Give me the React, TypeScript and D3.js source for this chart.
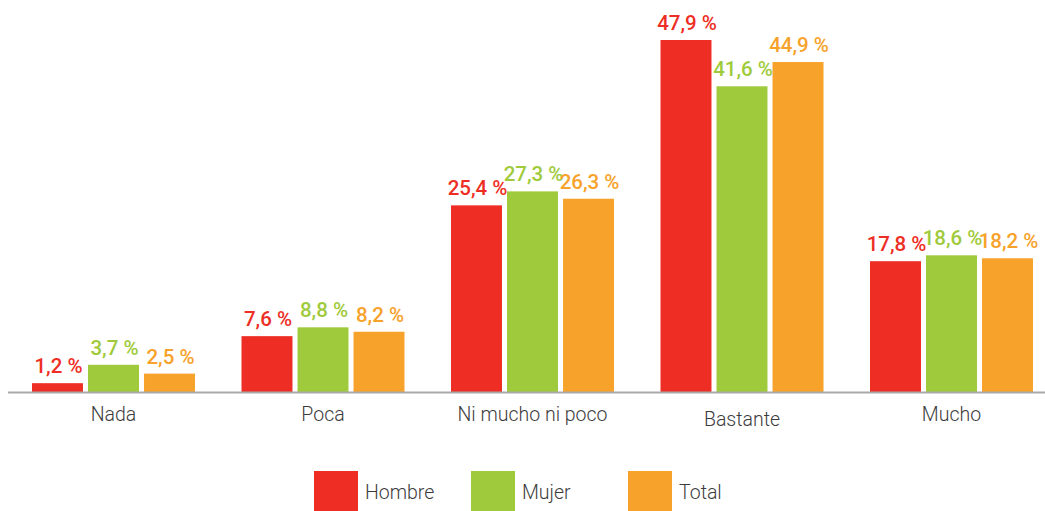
import React from "react";
import * as d3 from "d3";

const categories = ["Nada", "Poca", "Ni mucho ni poco", "Bastante", "Mucho"];
const seriesNames = ["Hombre", "Mujer", "Total"];
const hombre = [1.2, 7.6, 25.4, 47.9, 17.8];
const mujer = [3.7, 8.8, 27.3, 41.6, 18.6];
const total = [2.5, 8.2, 26.3, 44.9, 18.2];
const seriesValues = [hombre, mujer, total];
const colors = ["#ee2e24", "#9fca3b", "#f7a22a"];

const width = 1045;
const height = 511;
const baseline = 392;

const fmt = (v: number) => v.toFixed(1).replace(".", ",") + " %";

export default function App() {
  const x0 = d3.scaleBand<string>().domain(categories).range([32, 1033]).paddingInner(0.222).paddingOuter(0);
  const x1 = d3.scaleBand<string>().domain(seriesNames).range([0, x0.bandwidth()]).paddingInner(0.09).paddingOuter(0);
  const y = d3.scaleLinear().domain([0, 50]).range([baseline, baseline - (352 / 47.9) * 50]);

  const legendX = d3.scalePoint<string>().domain(seriesNames).range([314, 628]);

  return (
    <svg
      width={width}
      height={height}
      style={{ position: "absolute", left: 0, top: 0, display: "block" }}
      fontFamily="Roboto, 'Noto Sans', sans-serif"
    >
      <rect width={width} height={height} fill="#fff" />
      {categories.map((c, ci) => (
        <g key={c} transform={`translate(${x0(c)},0)`}>
          {seriesNames.map((s, si) => {
            const v = seriesValues[si][ci];
            const bx = x1(s)!;
            const bw = x1.bandwidth();
            return (
              <g key={s}>
                <rect x={bx} y={y(v)} width={bw} height={baseline - y(v)} fill={colors[si]} />
                <text
                  x={bx + bw / 2 + 1}
                  y={y(v) - 10}
                  textAnchor="middle"
                  fontSize={20.5}
                  fontWeight={500}
                  fill={colors[si]}
                >
                  {fmt(v)}
                </text>
              </g>
            );
          })}
          <text
            x={x0.bandwidth() / 2}
            y={c === "Bastante" ? 426 : 420.5}
            textAnchor="middle"
            fontSize={19.5}
            fontWeight={300}
            fill="#3c3c3c"
          >
            {c}
          </text>
        </g>
      ))}
      <line x1={8} x2={width} y1={baseline + 0.5} y2={baseline + 0.5} stroke="#aaaaaa" strokeWidth={2} />
      {seriesNames.map((s, si) => (
        <g key={s} transform={`translate(${legendX(s)},471)`}>
          <rect width={44} height={40} fill={colors[si]} />
          <text x={51} y={28} fontSize={19.5} fontWeight={300} fill="#3c3c3c">
            {s}
          </text>
        </g>
      ))}
    </svg>
  );
}
